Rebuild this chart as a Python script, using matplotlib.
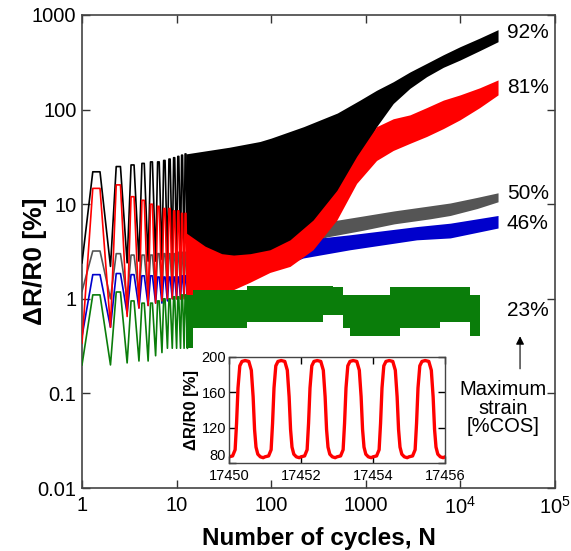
import numpy as np
import matplotlib.pyplot as plt
from matplotlib.ticker import FixedLocator, FixedFormatter, NullLocator

plt.rcParams['font.family'] = ['Liberation Sans', 'DejaVu Sans']
plt.rcParams['mathtext.fontset'] = 'custom'
plt.rcParams['mathtext.rm'] = 'Liberation Sans'
plt.rcParams['mathtext.bf'] = 'Liberation Sans:bold'

# ---- first cycles (single oscillations): trough at N = 1..13, peak inside each cycle
cycles = np.arange(1, 14)

black_trough = [2.4, 2.2, 2.4, 2.5, 2.5, 2.5, 2.6, 2.6, 2.6, 2.7, 2.7, 2.7, 2.8]
black_peak = [22, 25, 26, 27, 28, 28, 29, 30, 31, 32, 33, 34]
red_trough = [0.34, 0.5, 0.65, 0.8, 0.85, 0.9, 0.95, 1.0, 1.0, 1.0, 1.0, 1.0, 1.0]
red_peak = [14.7, 16, 12, 11, 10, 9.5, 9, 9, 8.5, 8.5, 8, 8]
gray_trough = [1.2, 1.0, 1.0, 1.1, 1.1, 1.1, 1.1, 1.2, 1.2, 1.2, 1.2, 1.2, 1.2]
gray_peak = [3.2, 3.0, 2.9, 2.9, 2.9, 3.0, 3.0, 3.0, 3.0, 3.1, 3.1, 3.1]
blue_trough = [0.4, 0.5, 0.7, 0.8, 0.85, 0.9, 0.9, 0.95, 1.0, 1.0, 1.0, 1.05, 1.1]
blue_peak = [1.8, 1.85, 1.8, 1.75, 1.75, 1.7, 1.7, 1.7, 1.7, 1.7, 1.75, 1.75]
green_trough = [0.2, 0.2, 0.21, 0.22, 0.22, 0.25, 0.27, 0.3, 0.3, 0.3, 0.3, 0.3, 0.3]
green_peak = [1.1, 1.18, 0.95, 0.9, 0.9, 0.95, 1.0, 1.0, 1.05, 1.05, 1.1, 1.1]

# ---- later cycles (too dense to resolve): lower / upper envelope
black_N = [12.5, 36, 76, 100, 220, 500, 868, 1300, 1950, 2930, 4400, 6600, 9900, 16000, 25000]
black_hi = [34, 40, 46, 50, 66, 92, 126, 160, 197, 250, 308, 380, 462, 570, 700]
black_lo = [2.6, 2.7, 2.9, 3.0, 5, 10, 30, 66, 116, 168, 223, 280, 334, 420, 522]

red_N = [12.5, 20, 30, 40, 60, 97, 158, 277, 494, 800, 1300, 1950, 2930, 4400, 6600, 9900, 16000, 25000]
red_hi = [5, 3.6, 3.0, 2.9, 3.0, 3.3, 4.2, 6.8, 14, 32, 66, 80, 88, 105, 126, 143, 170, 206]
red_lo = [0.95, 1.05, 1.15, 1.25, 1.5, 1.9, 2.2, 3.3, 6.8, 16.6, 29, 37, 44, 52, 63, 78, 105, 143]

gray_N = [12.5, 50, 150, 385, 931, 2000, 4750, 7800, 15000, 25000]
gray_hi = [3.1, 4.0, 5.0, 6.5, 7.5, 8.5, 9.6, 10.3, 11.8, 13.2]
gray_lo = [1.2, 1.8, 3.0, 4.5, 5.3, 6.2, 7.0, 7.6, 9.0, 10.6]

blue_N = [12.5, 40, 100, 218, 680, 3450, 7800, 25000]
blue_hi = [1.75, 2.3, 3.3, 4.2, 4.75, 5.8, 6.3, 7.6]
blue_lo = [1.0, 1.3, 2.0, 2.7, 3.3, 4.2, 4.4, 5.6]

# green band is step-like
green_N = [12.5, 15, 55, 356, 454, 578, 681, 1800, 2300, 6080, 12600, 16100]
green_hi = [1.1, 1.24, 1.36, 1.36, 1.33, 1.1, 1.1, 1.32, 1.32, 1.32, 1.1, 1.1]
green_lo = [0.3, 0.49, 0.57, 0.67, 0.67, 0.49, 0.40, 0.40, 0.49, 0.57, 0.40, 0.40]

labels = ['92%', '81%', '50%', '46%', '23%']
label_y = [650, 173, 13.1, 6.3, 0.76]

# ---- inset: one cycle of the 81% signal around N = 17450
inset_starts = [17450, 17451, 17452, 17453, 17454, 17455]
inset_phase = [0.00, 0.10, 0.17, 0.21, 0.25, 0.30, 0.36, 0.45, 0.55, 0.62, 0.67, 0.71, 0.75, 0.80, 0.87, 0.95]
inset_shape = [87, 88, 95, 125, 165, 190, 195, 196, 195, 185, 155, 118, 98, 90, 87, 86]


def zigzag(trough, peak):
    xs, ys = [], []
    for i in range(len(peak)):
        xs += [cycles[i], cycles[i] + 0.3, cycles[i] + 0.55]
        ys += [trough[i], peak[i], peak[i]]
    xs.append(cycles[len(peak)])
    ys.append(trough[len(peak)])
    return xs, ys


fig = plt.figure(figsize=(5.71, 5.51), dpi=100)
ax = fig.add_axes([82 / 571, 63 / 551, 473 / 571, 473 / 551])
ax.set_xscale('log')
ax.set_yscale('log')

series = [
    ('#555555', gray_trough, gray_peak, gray_N, gray_lo, gray_hi, 1),
    ('#0000cc', blue_trough, blue_peak, blue_N, blue_lo, blue_hi, 2),
    ('#000000', black_trough, black_peak, black_N, black_lo, black_hi, 3),
    ('#ff0000', red_trough, red_peak, red_N, red_lo, red_hi, 4),
]
for col, tr, pk, nn, lo, hi, z in series:
    xs, ys = zigzag(tr, pk)
    ax.plot(xs, ys, color=col, lw=1.2, zorder=z)
    ax.fill_between(nn, lo, hi, color=col, lw=0, zorder=z)

xs, ys = zigzag(green_trough, green_peak)
ax.plot(xs, ys, color='#0a7d0a', lw=1.2, zorder=5)
ax.fill_between(green_N, green_lo, green_hi, step='post', color='#0a7d0a', lw=0, zorder=5)

ax.set_xlim(1, 1e5)
ax.set_ylim(0.01, 1000)

ax.xaxis.set_major_locator(FixedLocator([1, 10, 100, 1000, 1e4, 1e5]))
ax.xaxis.set_major_formatter(FixedFormatter(['1', '10', '100', '1000',
                                             r'$\mathregular{10^4}$', r'$\mathregular{10^5}$']))
ax.yaxis.set_major_locator(FixedLocator([0.01, 0.1, 1, 10, 100, 1000]))
ax.yaxis.set_major_formatter(FixedFormatter(['0.01', '0.1', '1', '10', '100', '1000']))
ax.xaxis.set_minor_locator(NullLocator())
ax.yaxis.set_minor_locator(NullLocator())
ax.tick_params(which='major', direction='in', length=6, width=1, color='#333333',
               top=True, right=True, labelsize=14.5)
ax.tick_params(axis='x', pad=6)
ax.tick_params(axis='y', pad=4)
for s in ax.spines.values():
    s.set_color('#444444')
    s.set_linewidth(1.2)

ax.set_xlabel('Number of cycles, N', fontsize=17.5, fontweight='bold', labelpad=6)
ax.set_ylabel('ΔR/R0 [%]', fontsize=19, fontweight='bold')
ax.yaxis.set_label_coords(-0.074, 0.48)

for lab, yv in zip(labels, label_y):
    ax.text(3.1e4, yv, lab, fontsize=15, va='center', ha='left')
ax.text(2.8e4, 0.07, 'Maximum\nstrain\n[%COS]', fontsize=14.5, ha='center', va='center',
        linespacing=0.95)
ax.annotate('', xy=(4.27e4, 0.43), xytext=(4.27e4, 0.17),
            arrowprops=dict(arrowstyle='-|>', lw=0.8, color='black', mutation_scale=12))

# inset
ins = fig.add_axes([229 / 571, 88 / 551, 216 / 571, 106 / 551])
tx, ty = [], []
for st in inset_starts:
    tx += [st + p for p in inset_phase]
    ty += inset_shape
tx.append(17456)
ty.append(87)
ins.plot(tx, ty, color='#ff0000', lw=2.4, solid_capstyle='round')
ins.set_xlim(17450, 17456)
ins.set_ylim(80, 200)
ins.set_xticks([17450, 17452, 17454, 17456])
ins.set_xticklabels(['17450', '17452', '17454', '17456'])
ins.set_yticks([80, 120, 160, 200])
ins.set_yticklabels(['80', '120', '160', '200'])
ins.tick_params(direction='in', length=5, width=1, top=True, right=True, labelsize=10.5)
ins.tick_params(axis='x', pad=4)
ins.tick_params(axis='y', pad=2)
ins.get_yticklabels()[0].set_va('bottom')
for s in ins.spines.values():
    s.set_color('#444444')
    s.set_linewidth(1.0)
ins.set_ylabel('ΔR/R0 [%]', fontsize=12, fontweight='bold', labelpad=2)

fig.savefig('out.png', dpi=100)
